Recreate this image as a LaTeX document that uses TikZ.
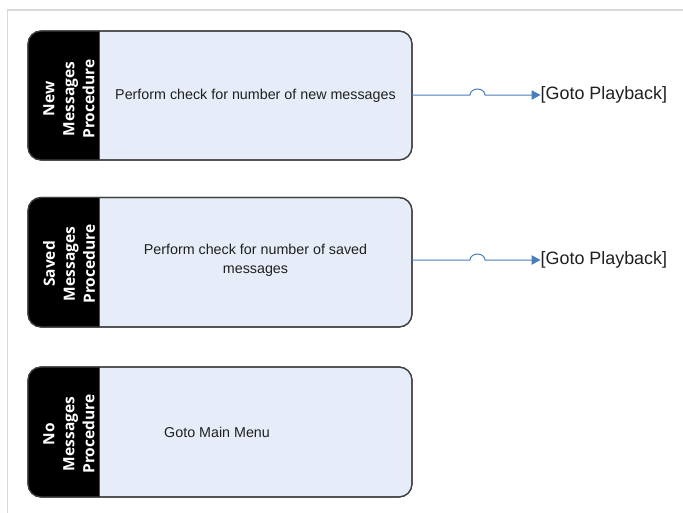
\documentclass[tikz,border=0pt]{standalone}
\usepackage{fontspec}
\setmainfont{Liberation Sans}
\newfontfamily\lanefont{Open Sans}
\usetikzlibrary{arrows.meta}
\definecolor{boxfill}{HTML}{E6EDF8}
\definecolor{boxline}{HTML}{3F3F3F}
\definecolor{flowblue}{HTML}{4A7EBB}
\definecolor{framegray}{HTML}{D9D9D9}
\definecolor{txt}{HTML}{202020}
\tikzset{
  x=1pt, y=-1pt,
  lanebox/.style={rectangle, rounded corners=13pt, fill=boxfill, draw=boxline, line width=1.2pt,
    minimum width=384pt, inner sep=0pt, outer sep=0pt},
  laneborder/.style={draw=boxline, line width=1.2pt, rounded corners=13pt},
  lanelabel/.style={rotate=90, text=white, align=center, inner sep=0pt,
    font=\lanefont\bfseries\fontsize{15.5}{20}\selectfont},
  bodytext/.style={text=txt, align=center, inner sep=0pt, font=\fontsize{14.3}{18.5}\selectfont},
  gototext/.style={text=txt, anchor=west, inner sep=0pt, font=\fontsize{17.9}{20}\selectfont},
  flow/.style={draw=flowblue, line width=1pt, -{Triangle[length=9pt,width=9.5pt]}},
}
\begin{document}
\begin{tikzpicture}
\useasboundingbox (0,0) rectangle (683,512);
\clip (0,0) rectangle (683,512);
\fill[white] (0,0) rectangle (683,512);
\draw[framegray, line width=1.6pt] (7.5,10) rectangle (720,560);

% lane boxes
\node[lanebox, minimum height=129pt] (box1) at (220,95.5) {};
\node[lanebox, minimum height=129.5pt] (box2) at (220,262.25) {};
\node[lanebox, minimum height=130pt] (box3) at (220,432) {};

% black bands
\foreach \b in {box1,box2,box3}{
  \begin{scope}
    \clip (\b.north west) rectangle ([xshift=71.5pt]\b.south west);
    \fill[black, rounded corners=13pt] (\b.north west) rectangle (\b.south east);
  \end{scope}
  \draw[laneborder] (\b.north west) rectangle (\b.south east);
}

% lane labels
\node[lanelabel] (lab1) at (69,99) {New\\Messages\\Procedure};
\node[lanelabel] (lab2) at (69,264) {Saved\\Messages\\Procedure};
\node[lanelabel] (lab3) at (69,434) {No\\Messages\\Procedure};

% body texts
\node[bodytext] (t1) at (255.5,95.5) {Perform check for number of new messages};
\node[bodytext] (t2) at (255.5,260.5) {Perform check for number of saved\\messages};
\node[bodytext, anchor=west] (t3) at (164,432.5) {Goto Main Menu};

% goto labels
\node[gototext] (g1) at (540.5,95) {[Goto Playback]};
\node[gototext] (g2) at (540.5,260) {[Goto Playback]};

% connectors with line hops
\coordinate (s1) at (box1.east |- g1.west);
\coordinate (s2) at (box2.east |- g2.west);
\coordinate (h1) at (470,95);
\coordinate (h2) at (470,260);
\draw[flow] (s1) -- (h1) arc[start angle=180,end angle=0,x radius=7.5pt,y radius=6pt] -- (g1.west);
\draw[flow] (s2) -- (h2) arc[start angle=180,end angle=0,x radius=7.5pt,y radius=6pt] -- (g2.west);
\end{tikzpicture}
\end{document}
